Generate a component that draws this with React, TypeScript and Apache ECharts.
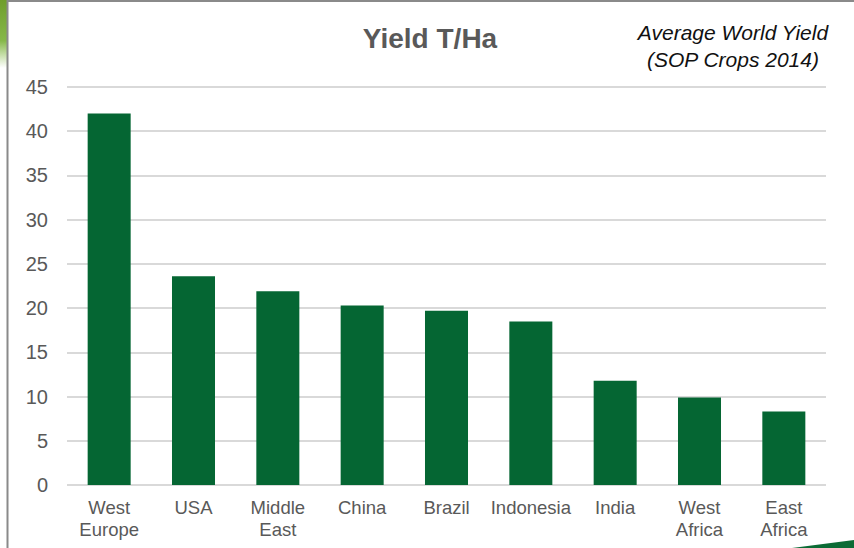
import React, { useEffect, useRef } from "react";
import * as echarts from "echarts";

const regions = [
  "West\nEurope",
  "USA",
  "Middle\nEast",
  "China",
  "Brazil",
  "Indonesia",
  "India",
  "West\nAfrica",
  "East\nAfrica",
];
const yieldTHa = [42.0, 23.6, 21.9, 20.3, 19.7, 18.5, 11.8, 9.9, 8.3];
const yTicks = [0, 5, 10, 15, 20, 25, 30, 35, 40, 45];

const FONT = "'Liberation Sans', Arial, sans-serif";
const GREY_TEXT = "#595959";
const BAR_GREEN = "#056633";

export default function App() {
  const ref = useRef<HTMLDivElement>(null);

  useEffect(() => {
    if (!ref.current) return;
    const chart = echarts.init(ref.current, null, { renderer: "svg" });
    chart.setOption({
      animation: false,
      backgroundColor: "#ffffff",
      textStyle: { fontFamily: FONT },
      grid: { left: 67, right: 28, top: 87, bottom: 63, containLabel: false },
      graphic: [
        // leafy backdrop peeking out at the top-left corner
        {
          type: "rect",
          shape: { x: 0, y: 0, width: 8, height: 68 },
          style: {
            fill: new echarts.graphic.LinearGradient(0, 0, 0, 1, [
              { offset: 0, color: "#6f9e2c" },
              { offset: 0.6, color: "#86b84a" },
              { offset: 1, color: "rgba(140,190,80,0)" },
            ]),
          },
          silent: true,
        },
        // slide frame
        {
          type: "line",
          shape: { x1: 7.5, y1: 1, x2: 854, y2: 1 },
          style: { stroke: "#8a8a8a", lineWidth: 2 },
          silent: true,
        },
        {
          type: "line",
          shape: { x1: 7.5, y1: 0, x2: 7.5, y2: 548 },
          style: { stroke: "#8a8a8a", lineWidth: 2 },
          silent: true,
        },
        // green swoosh at bottom-right
        {
          type: "polygon",
          shape: {
            points: [
              [792, 548],
              [854, 540],
              [854, 548],
            ],
          },
          style: { fill: "#0b6b35" },
          silent: true,
        },
        {
          type: "text",
          x: 430,
          y: 38,
          style: {
            text: "Yield T/Ha",
            font: `bold 28px ${FONT}`,
            fill: GREY_TEXT,
            align: "center",
            verticalAlign: "middle",
          },
        },
        {
          type: "text",
          x: 733,
          y: 19,
          style: {
            text: "Average World Yield\n(SOP Crops 2014)",
            font: `italic 21px ${FONT}`,
            fill: "#111111",
            align: "center",
            verticalAlign: "top",
            lineHeight: 27,
          },
        },
      ],
      xAxis: {
        type: "category",
        data: regions,
        axisLine: { show: false },
        axisTick: { show: false },
        axisLabel: {
          color: GREY_TEXT,
          fontSize: 18.5,
          fontFamily: FONT,
          lineHeight: 22,
          margin: 11,
          interval: 0,
          verticalAlign: "top",
        },
      },
      yAxis: {
        type: "value",
        min: 0,
        max: 45,
        interval: 5,
        axisLine: { show: false },
        axisTick: { show: false },
        splitLine: { lineStyle: { color: "#d9d9d9", width: 2 } },
        axisLabel: {
          color: GREY_TEXT,
          fontSize: 20,
          fontFamily: FONT,
          margin: 19,
          formatter: (v: number) => (yTicks.includes(v) ? String(v) : ""),
        },
      },
      series: [
        {
          type: "bar",
          data: yieldTHa,
          barWidth: "51%",
          itemStyle: { color: BAR_GREEN },
        },
      ],
    });
    return () => chart.dispose();
  }, []);

  return (
    <div
      ref={ref}
      style={{ position: "absolute", left: 0, top: 0, width: 854, height: 548 }}
    />
  );
}
